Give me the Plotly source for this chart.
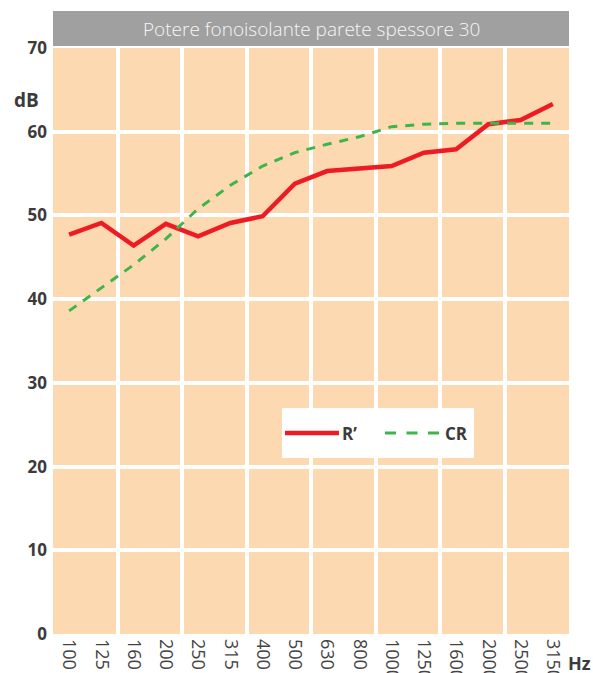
import plotly.graph_objects as go

# Frequency bands (Hz) and measured / reference sound insulation (dB)
freqs = ["100", "125", "160", "200", "250", "315", "400", "500",
         "630", "800", "1000", "1250", "1600", "2000", "2500", "3150"]
r_prime = [47.7, 49.1, 46.4, 49.0, 47.5, 49.1, 49.9, 53.8,
           55.3, 55.6, 55.9, 57.5, 57.9, 60.9, 61.4, 63.3]
cr_curve = [38.6, 41.3, 44.1, 47.2, 50.8, 53.6, 55.9, 57.5,
            58.5, 59.4, 60.6, 60.9, 61.0, 61.0, 61.0, 61.0]
y_ticks = [0, 10, 20, 30, 40, 50, 60, 70]

title_text = "Potere fonoisolante parete spessore 30"

FONT = "Open Sans"
DARK = "#3b3b3b"
PEACH = "#fcd9b1"
RED = "#ed1c24"
GREEN = "#3db54a"

pos = list(range(len(freqs)))

fig = go.Figure()
fig.add_trace(go.Scatter(x=pos, y=r_prime, mode="lines", name="R’",
                         line=dict(color=RED, width=4.5), showlegend=False))
fig.add_trace(go.Scatter(x=pos, y=cr_curve, mode="lines", name="CR",
                         line=dict(color=GREEN, width=3, dash="9px,8px"),
                         showlegend=False))

W, H = 593, 673
ml, mr, mt, mb = 53, 24, 48, 39
pw, ph = W - ml - mr, H - mt - mb


def px(xp):
    return (xp - ml) / pw


def py(yp):
    return 1 - (yp - mt) / ph


shapes = [
    # title bar
    dict(type="rect", xref="paper", yref="paper", x0=0, x1=1,
         y0=py(46), y1=py(11), fillcolor="#a0a0a0", line=dict(width=0)),
    # legend box
    dict(type="rect", xref="paper", yref="paper", x0=px(282), x1=px(474),
         y0=py(458), y1=py(408), fillcolor="white", line=dict(width=0)),
    dict(type="line", xref="paper", yref="paper", x0=px(285), x1=px(339),
         y0=py(433), y1=py(433), line=dict(color=RED, width=4.5)),
    dict(type="line", xref="paper", yref="paper", x0=px(385), x1=px(440),
         y0=py(433), y1=py(433),
         line=dict(color=GREEN, width=3, dash="11px,10.5px")),
]

annotations = [
    dict(text=title_text, xref="paper", yref="paper", x=px(311.5), y=py(28.5),
         xanchor="center", yanchor="middle", showarrow=False,
         font=dict(family=FONT, size=19, color="#f6f6f6", weight=300)),
    dict(text="dB", xref="paper", yref="paper", x=px(26), y=py(100),
         xanchor="center", yanchor="middle", showarrow=False,
         font=dict(family=FONT, size=19, color=DARK, weight="bold")),
    dict(text="Hz", xref="paper", yref="paper", x=px(579), y=py(663),
         xanchor="center", yanchor="middle", showarrow=False,
         font=dict(family=FONT, size=18, color=DARK, weight="bold")),
    dict(text="R’", xref="paper", yref="paper", x=px(340), y=py(433),
         xanchor="left", yanchor="middle", showarrow=False,
         font=dict(family=FONT, size=17, color=DARK, weight="bold")),
    dict(text="CR", xref="paper", yref="paper", x=px(443), y=py(433),
         xanchor="left", yanchor="middle", showarrow=False,
         font=dict(family=FONT, size=17, color=DARK, weight="bold")),
]

fig.update_layout(
    width=W, height=H, autosize=False,
    margin=dict(l=ml, r=mr, t=mt, b=mb, pad=0),
    paper_bgcolor="white", plot_bgcolor=PEACH,
    shapes=shapes, annotations=annotations,
    showlegend=False,
    xaxis=dict(
        range=[-0.5, len(freqs) - 0.5], tickmode="array",
        tickvals=pos, ticktext=freqs, tickangle=90,
        showgrid=False, zeroline=False, showline=False, ticks="",
        automargin=False, ticklabelstandoff=4,
        tickfont=dict(family=FONT, size=18, color="#444444"),
        minor=dict(tickmode="array",
                   tickvals=[p + 0.5 for p in pos[1:-1:2]],
                   showgrid=True, gridcolor="white", gridwidth=3.5,
                   ticks=""),
    ),
    yaxis=dict(
        range=[0, 70], tickmode="array", tickvals=y_ticks,
        showgrid=True, gridcolor="white", gridwidth=4,
        zeroline=False, showline=False, ticks="",
        automargin=False, ticklabelstandoff=5,
        tickfont=dict(family=FONT, size=17, color=DARK, weight="bold"),
    ),
)

fig.write_html("out.html")
